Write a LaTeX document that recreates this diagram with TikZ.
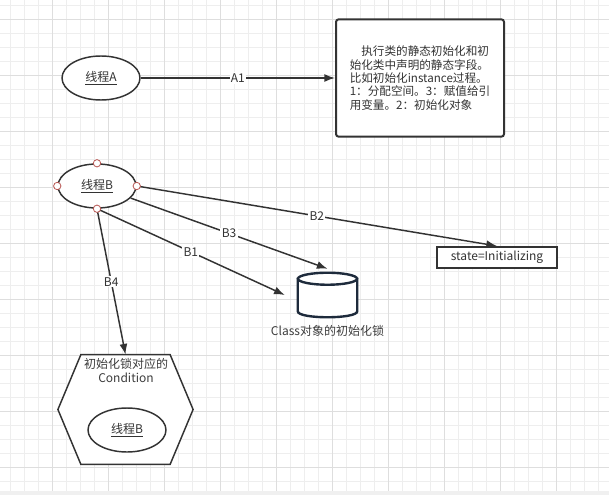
\documentclass[tikz,border=0pt]{standalone}
\usepackage{fontspec}
\setmainfont{Noto Sans CJK SC}
\usetikzlibrary{
  arrows.meta,
  positioning,
  calc,
  shapes.geometric
}
\definecolor{thrLine}{RGB}{51,51,51}
\definecolor{thrText}{RGB}{60,60,60}
\definecolor{thrGrid}{RGB}{238,238,238}
\definecolor{thrGridMajor}{RGB}{222,222,222}
\definecolor{thrStripe}{RGB}{240,240,240}
\definecolor{thrLock}{RGB}{30,43,60}
\definecolor{thrHandle}{RGB}{184,84,80}
\tikzset{
  threllipse/.style={
    ellipse,
    draw=thrLine,
    line width=1.1pt,
    fill=white,
    minimum width=58.5pt,
    minimum height=33pt,
    inner sep=0pt,
    text=thrLine,
    font=\fontsize{9}{11}\selectfont
  },
  notebox/.style={
    draw=thrLine,
    line width=1.5pt,
    rounded corners=2pt,
    fill=white,
    minimum width=126pt,
    minimum height=88pt,
    inner sep=0pt,
    align=left,
    text=thrLine,
    font=\fontsize{8.7}{10}\selectfont
  },
  statebox/.style={
    draw=thrLine,
    line width=1.5pt,
    fill=white,
    minimum width=90pt,
    minimum height=15.75pt,
    inner sep=0pt,
    text=thrLine,
    font=\fontsize{9}{11}\selectfont
  },
  lockarea/.style={
    rectangle,
    minimum width=44.25pt,
    minimum height=33pt,
    inner sep=0pt
  },
  lockline/.style={
    draw=thrLock,
    line width=1.8pt,
    fill=white
  },
  condshape/.style={
    rectangle,
    minimum width=101pt,
    minimum height=82pt,
    inner sep=0pt
  },
  thrtext/.style={
    text=thrText,
    inner sep=1pt,
    font=\fontsize{9}{11}\selectfont
  },
  thrarrow/.style={
    -{Latex[length=8pt,width=6pt]},
    line width=1.1pt,
    draw=thrLine
  },
  thrlabel/.style={
    fill=white,
    inner sep=1pt,
    text=thrLine,
    font=\fontsize{9}{11}\selectfont
  },
  thrhandle/.style={
    circle,
    draw=thrHandle,
    fill=white,
    line width=0.6pt,
    minimum size=5.5pt,
    inner sep=0pt
  }
}

\begin{document}
\begin{tikzpicture}[x=0.75pt, y=-0.75pt]
  \useasboundingbox (0,0) rectangle (609,495);
  % grid background
  \fill[white] (0,0) rectangle (609,495);
  \foreach \gx in {10.3,24.3,...,598.3}
    \draw[thrGrid, line width=0.75pt] (\gx,0) -- (\gx,491);
  \foreach \gy in {5.3,19.3,...,481.3}
    \draw[thrGrid, line width=0.75pt] (0,\gy) -- (609,\gy);
  \foreach \gx in {52.3,108.3,...,556.3}
    \draw[thrGridMajor, line width=0.75pt] (\gx,0) -- (\gx,491);
  \foreach \gy in {19.3,75.3,...,467.3}
    \draw[thrGridMajor, line width=0.75pt] (0,\gy) -- (609,\gy);
  \fill[thrStripe] (0,491) rectangle (609,495);

  % thread A and its step
  \node[threllipse] (threadA) at (101,78) {\underline{线程A}};
  \node[notebox] (note) at (420,78)
    {\hspace*{1em}执行类的静态初始化和初\\始化类中声明的静态字段。\\比如初始化instance过程。\\1：分配空间。3：赋值给引\\用变量。2：初始化对象};

  % thread B and its targets
  \node[threllipse] (threadB) at (97,186) {\underline{线程B}};
  \node[statebox] (state) at (497,257.5) {state=Initializing};
  \node[lockarea] (lock) at (327.5,295) {};
  \draw[lockline]
    ($(lock.north west)+(0,6)$) -- ($(lock.south west)+(0,-6)$)
    .. controls ($(lock.south west)+(0,2)$) and ($(lock.south east)+(0,2)$) .. ($(lock.south east)+(0,-6)$)
    -- ($(lock.north east)+(0,6)$) -- cycle;
  \draw[lockline] ($(lock.north)+(0,6)$) ellipse [x radius=22.125pt, y radius=4.5pt];
  \node[thrtext, below=5pt of lock] (locklbl) {Class对象的初始化锁};
  \node[condshape] (cond) at (125.5,409.5) {};
  \draw[thrLine, line width=1.1pt, fill=white]
    (cond.west) -- ($(cond.north west)+(23,0)$) -- ($(cond.north east)+(-23,0)$)
    -- (cond.east) -- ($(cond.south east)+(-23,0)$) -- ($(cond.south west)+(23,0)$)
    -- cycle;
  \node[thrtext, align=center] (condlbl) at (126,370.5) {初始化锁对应的\\Condition};
  \node[threllipse] (threadB2) at (127,430) {\underline{线程B}};

  \coordinate (b1end) at ($(lock.west)+(-13,0)$);
  \coordinate (b3end) at ($(lock.north)+(0,-4)$);

  \draw[thrarrow] (threadA) -- node[thrlabel] {A1} (note);
  \draw[thrarrow] (threadB.east) -- node[thrlabel] {B2} (state.north);
  \draw[thrarrow] (threadB) -- node[thrlabel] {B3} (b3end);
  \draw[thrarrow] (threadB.south) -- node[thrlabel] {B1} (b1end);
  \draw[thrarrow] (threadB.south) -- node[thrlabel] {B4} (cond.north);

  \foreach \a in {north,south,east,west}
    \node[thrhandle] (hdl-\a) at (threadB.\a) {};
\end{tikzpicture}
\end{document}
